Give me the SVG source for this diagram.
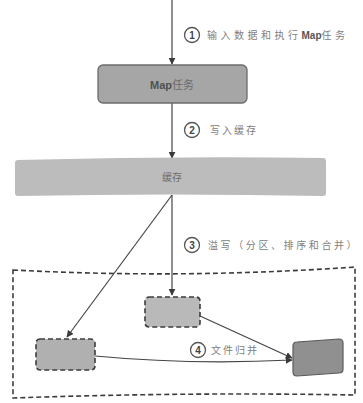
<svg xmlns="http://www.w3.org/2000/svg" width="363" height="403" viewBox="0 0 363 403">
  <style>
    .line { fill: none; stroke: #454545; stroke-width: 1.2; }
    .lbl { font-family: "Noto Sans CJK SC", "Noto Sans", sans-serif; font-size: 10px; fill: #808080; letter-spacing: 2px; }
    .num { font-family: "Liberation Sans", sans-serif; font-size: 10px; font-weight: bold; fill: #444; text-anchor: middle; }
    .circ { fill: #fff; stroke: #555; stroke-width: 1.3; }
    .dash { stroke: #3c3c3c; stroke-width: 1.6; stroke-dasharray: 5 3; }
  </style>
  <defs>
    <marker id="arrow" viewBox="0 0 10 10" refX="9" refY="5" markerWidth="7" markerHeight="7" orient="auto" markerUnits="userSpaceOnUse">
      <path d="M0,0 L10,5 L0,10 z" fill="#3a3a3a"/>
    </marker>
  </defs>

  <!-- dashed container around the spill files -->
  <g id="container">
    <path d="M13,270 Q184,279 355,267 L355,395 Q184,392 13,398 Z" fill="none" class="dash"/>
  </g>

  <!-- connectors -->
  <g id="connectors">
    <line class="line" x1="172" y1="0" x2="172" y2="64" marker-end="url(#arrow)"/>
    <line class="line" x1="172" y1="103" x2="172" y2="158" marker-end="url(#arrow)"/>
    <line class="line" x1="172" y1="195" x2="172" y2="295" marker-end="url(#arrow)"/>
    <line class="line" x1="172" y1="195" x2="67" y2="337" marker-end="url(#arrow)"/>
    <line class="line" x1="200" y1="316" x2="292" y2="358" marker-end="url(#arrow)"/>
    <path class="line" d="M95,356 Q190,365 292,360" marker-end="url(#arrow)"/>
  </g>

  <!-- step labels -->
  <g id="step1">
    <circle class="circ" cx="192" cy="35" r="7.5"/>
    <text class="num" x="192" y="38.5">1</text>
    <text class="lbl" x="207" y="39" style="letter-spacing:3.5px">输入数据和执行<tspan font-family="Liberation Sans, sans-serif" font-weight="bold" fill="#555" style="letter-spacing:0">Map</tspan>任务</text>
  </g>
  <g id="step2">
    <circle class="circ" cx="192" cy="130" r="7.5"/>
    <text class="num" x="192" y="133.5">2</text>
    <text class="lbl" x="210" y="134">写入缓存</text>
  </g>
  <g id="step3">
    <circle class="circ" cx="192" cy="245" r="7.5"/>
    <text class="num" x="192" y="248.5">3</text>
    <text class="lbl" x="208" y="249" style="letter-spacing:2.6px">溢写（分区、排序和合并）</text>
  </g>
  <g id="step4">
    <circle class="circ" cx="198" cy="350" r="7.5"/>
    <text class="num" x="198" y="353.5">4</text>
    <text class="lbl" x="211" y="354">文件归并</text>
  </g>

  <!-- Map task -->
  <g id="map-task">
    <rect x="98" y="65" width="149" height="38" rx="5" fill="#a6a6a6" stroke="#6b6b6b" stroke-width="1.3"/>
    <text x="172" y="89" text-anchor="middle" font-family="Liberation Sans, 'Noto Sans CJK SC', sans-serif" font-size="11" fill="#505050"><tspan font-weight="bold">Map</tspan><tspan font-family="'Noto Sans CJK SC', sans-serif" fill="#6a6a6a">任务</tspan></text>
  </g>

  <!-- buffer -->
  <g id="buffer">
    <path d="M18,160 Q170,156 323,158 Q326,158 326,161 L326,193 Q326,196 323,196 Q170,193 18,196 Q15,196 15,193 L15,163 Q15,160 18,160 Z" fill="#bcbcbc"/>
    <text x="172" y="181" text-anchor="middle" font-family="'Noto Sans CJK SC', sans-serif" font-size="10" fill="#6e6e6e">缓存</text>
  </g>

  <!-- spill files -->
  <g id="spill-middle">
    <rect x="145" y="297" width="55" height="30" rx="4" fill="#b9b9b9" class="dash"/>
  </g>
  <g id="spill-left">
    <rect x="36" y="339" width="59" height="31" rx="4" fill="#b0b0b0" class="dash"/>
  </g>
  <g id="merged-file">
    <path d="M297,342 L339,339 Q343,339 343,343 L343,369 Q343,373 339,373 L297,376 Q293,376 293,372 L293,346 Q293,342 297,342 Z" fill="#909090" stroke="#5a5a5a" stroke-width="1.2"/>
  </g>
</svg>
